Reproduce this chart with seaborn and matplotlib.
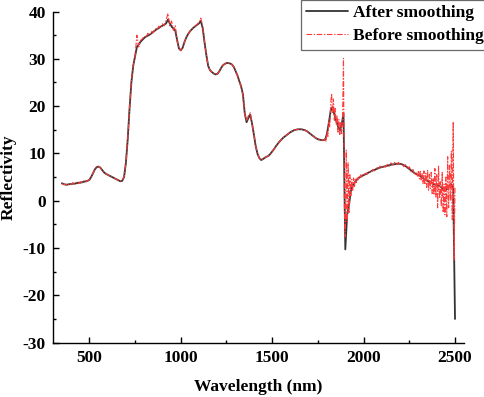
import numpy as np
import matplotlib.pyplot as plt
import matplotlib as mpl
from matplotlib.ticker import MultipleLocator
import seaborn as sns

sns.set_theme(style="ticks")
mpl.rcParams["font.family"] = ["Liberation Serif", "DejaVu Serif"]
mpl.rcParams["font.weight"] = "bold"
mpl.rcParams["axes.labelweight"] = "bold"
mpl.rcParams["axes.unicode_minus"] = False
mpl.rcParams["text.color"] = "black"
mpl.rcParams["axes.labelcolor"] = "black"

# ----------------------------
# smoothed spectrum, 10 nm grid 350-2500
# ----------------------------
wl_smooth = np.arange(350, 2501, 10)
refl_smooth = [
    3.7, 3.5, 3.4, 3.4, 3.5, 3.5, 3.6, 3.6, 3.7, 3.8,
    3.8, 3.9, 4.0, 4.1, 4.2, 4.4, 5.0, 5.8, 6.6, 7.1,
    7.2, 7.0, 6.5, 6.0, 5.7, 5.5, 5.3, 5.1, 4.9, 4.7,
    4.5, 4.3, 4.1, 4.2, 5.0, 8.0, 13.0, 19.5, 25.0, 28.5,
    30.5, 32.5, 33.0, 33.6, 34.0, 34.4, 34.7, 34.9, 35.1, 35.4,
    35.7, 36.0, 36.3, 36.5, 36.8, 37.0, 37.2, 37.5, 38.3, 37.5,
    36.8, 36.4, 36.0, 34.0, 32.2, 31.8, 32.3, 33.5, 34.5, 35.2,
    35.8, 36.2, 36.6, 36.9, 37.2, 37.5, 38.0, 36.5, 33.5, 30.8,
    28.5, 27.6, 27.2, 26.9, 26.7, 26.8, 27.3, 28.0, 28.6, 28.9,
    29.1, 29.1, 29.0, 28.8, 28.3, 27.4, 26.5, 25.3, 24.2, 22.5,
    18.5, 16.6, 17.5, 18.2, 16.3, 14.0, 11.5, 9.9, 9.0, 8.6,
    8.8, 9.1, 9.3, 9.5, 9.9, 10.4, 10.9, 11.5, 12.0, 12.5,
    12.9, 13.3, 13.6, 13.9, 14.2, 14.5, 14.7, 14.9, 15.0, 15.1,
    15.1, 15.1, 15.0, 14.9, 14.7, 14.4, 14.1, 13.8, 13.5, 13.2,
    13.0, 12.9, 12.8, 12.8, 12.9, 14.2, 16.5, 19.0, 19.8, 18.3,
    17.0, 15.7, 14.8, 16.0, 18.5, -10.3, -3.0, -1.0, 2.0, 3.2,
    3.8, 4.3, 4.7, 5.0, 5.2, 5.4, 5.6, 5.8, 6.0, 6.2,
    6.4, 6.5, 6.7, 6.9, 7.0, 7.1, 7.2, 7.3, 7.4, 7.5,
    7.6, 7.7, 7.7, 7.8, 7.8, 7.8, 7.7, 7.5, 7.3, 7.0,
    6.7, 6.4, 6.1, 5.8, 5.6, 5.4, 5.2, 4.9, 4.7, 4.4,
    4.2, 4.0, 3.8, 3.6, 3.4, 3.3, 3.2, 3.0, 2.6, 2.3,
    2.3, 2.6, 3.2, 3.5, 2.5, -25.0,
]

# ----------------------------
# raw spectrum, finer steps where the noise is
# ----------------------------
wl_raw = np.concatenate([
    np.arange(350, 1781, 10),
    np.arange(1785, 1996, 5),
    np.arange(2000, 2291, 10),
    np.arange(2295, 2501, 5),
])
refl_raw = [
    # 350-1780
    3.6, 3.4, 3.5, 3.2, 3.6, 3.4, 3.8, 3.5, 3.9, 3.6,
    4.0, 3.8, 4.2, 3.9, 4.3, 4.4, 5.0, 5.8, 6.7, 7.1,
    7.3, 7.0, 6.4, 6.0, 5.8, 5.5, 5.3, 5.1, 4.9, 4.7,
    4.5, 4.3, 4.1, 4.2, 5.1, 8.0, 13.2, 19.5, 25.3, 28.7,
    30.4, 35.0, 32.5, 33.9, 34.2, 34.8, 34.5, 35.4, 35.0, 35.8,
    35.5, 36.4, 36.1, 36.9, 36.5, 37.4, 37.0, 38.2, 39.6, 37.0,
    38.0, 36.0, 37.0, 33.8, 32.3, 31.7, 32.4, 33.5, 34.5, 35.2,
    35.8, 36.3, 36.6, 37.0, 37.3, 37.7, 38.6, 36.8, 33.5, 30.8,
    28.5, 27.6, 27.2, 26.9, 26.7, 26.8, 27.3, 28.0, 28.6, 28.9,
    29.1, 29.1, 29.0, 28.8, 28.3, 27.4, 26.5, 25.3, 24.2, 22.5,
    18.3, 16.8, 18.0, 18.6, 16.3, 14.0, 11.5, 9.9, 9.0, 8.6,
    8.8, 9.1, 9.3, 9.5, 9.9, 10.4, 10.9, 11.5, 12.0, 12.5,
    12.9, 13.3, 13.6, 13.9, 14.2, 14.5, 14.7, 14.9, 15.0, 15.1,
    15.1, 15.1, 15.0, 14.9, 14.7, 14.4, 14.1, 13.8, 13.5, 13.2,
    13.0, 12.9, 12.8, 12.8,
    # 1785-1995
    12.8, 13.2, 12.5, 14.8, 13.6, 16.8, 15.5, 20.5, 22.7, 18.5,
    21.5, 17.0, 19.5, 16.2, 18.0, 14.5, 17.2, 14.0, 16.5, 14.2,
    17.5, 30.1, -2.0, -7.6, 10.7, -4.5, 8.0, -2.5, 5.5, 1.0,
    4.5, 2.0, 4.8, 3.0, 4.8, 3.8, 5.0, 4.4, 5.3, 4.8,
    5.5, 5.0, 5.5,
    # 2000-2290
    5.3, 5.8, 5.6, 6.2, 6.0, 6.6, 6.3, 6.9, 6.7, 7.3,
    6.9, 7.5, 7.1, 7.7, 7.3, 8.0, 7.5, 8.1, 7.6, 8.1,
    7.6, 7.9, 7.2, 7.6, 6.7, 7.2, 6.1, 6.6, 5.4, 6.0,
    # 2295-2500
    5.2, 6.4, 4.6, 6.2, 4.4, 5.8, 3.6, 6.3, 3.4, 5.8,
    2.8, 6.5, 2.2, 5.6, 2.6, 6.0, 1.5, 4.8, 1.2, 6.8,
    0.8, 5.5, -1.5, 7.3, 0.5, 4.0, -1.2, 6.0, -2.5, 3.5,
    -3.0, 5.0, -3.4, 9.3, -1.5, 7.5, 0.0, 10.5, -4.0, 16.7,
    -12.5, 3.0,
]

fig = plt.figure(figsize=(4.84, 3.97), dpi=100)
ax = fig.add_axes([0.109, 0.137, 0.85, 0.834])

sns.lineplot(x=wl_smooth, y=refl_smooth, ax=ax, color="#333333",
             linewidth=1.3, label="After smoothing", sort=False)
sns.lineplot(x=wl_raw, y=refl_raw, ax=ax, color="#ff3a3a",
             linewidth=0.8, dashes=False, label="Before smoothing", sort=False)
ax.lines[-1].set_dashes([5, 1.5, 1.2, 1.5])

ax.set_xlim(300, 2550)
ax.set_ylim(-30, 40)
ax.xaxis.set_major_locator(MultipleLocator(500))
ax.xaxis.set_minor_locator(MultipleLocator(250))
ax.yaxis.set_major_locator(MultipleLocator(10))
ax.yaxis.set_minor_locator(MultipleLocator(5))
ax.tick_params(which="both", direction="in", width=1.0, colors="black",
               labelsize=12.5)
ax.tick_params(which="major", length=4, pad=5)
ax.tick_params(which="minor", length=2.2)
for s in ["top", "right"]:
    ax.spines[s].set_visible(False)
for s in ["left", "bottom"]:
    ax.spines[s].set_color("black")
    ax.spines[s].set_linewidth(1.0)

ax.set_xlabel("Wavelength (nm)", fontsize=12.5, fontweight="bold", labelpad=10)
ax.set_ylabel("Reflectivity", fontsize=12.5, fontweight="bold", labelpad=4)

ax.get_legend().remove()
h, l = ax.get_legend_handles_labels()
leg = fig.legend(h, l, loc="upper left", bbox_to_anchor=(301 / 484, 1.0),
                 frameon=True, fancybox=False, borderaxespad=0,
                 borderpad=0.3, handlelength=2.4, handletextpad=0.3,
                 labelspacing=0.4, prop={"weight": "bold", "size": 12.5})
leg.get_frame().set_edgecolor("#444444")
leg.get_frame().set_linewidth(0.9)

fig.savefig("out.png", dpi=100)
